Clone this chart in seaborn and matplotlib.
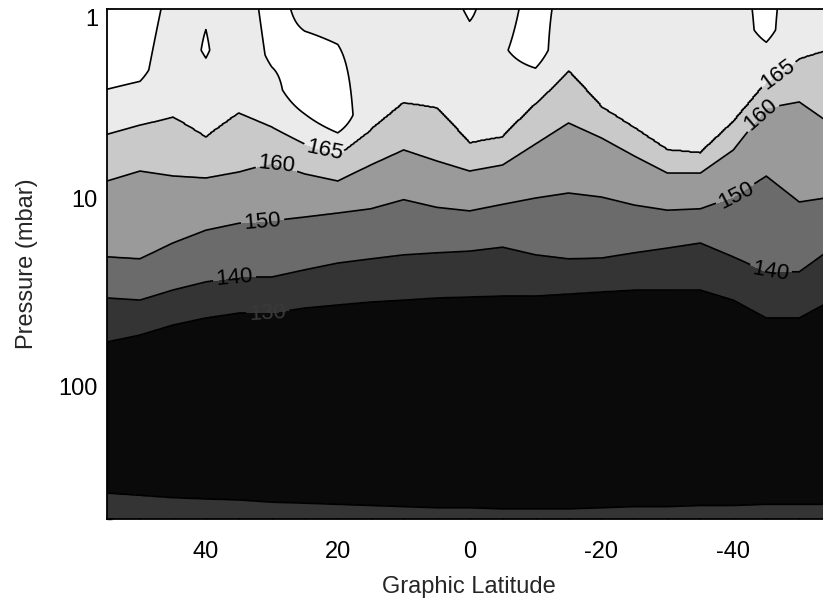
import numpy as np
import matplotlib
matplotlib.use("Agg")
import matplotlib.pyplot as plt
import seaborn as sns
from matplotlib.ticker import FixedLocator, LogLocator, NullFormatter, MultipleLocator

nan = np.nan

# ---- data -----------------------------------------------------------------
lat = [55, 50, 45, 40, 35, 30, 25, 20, 15, 10, 5, 0, -5, -10, -15, -20,
       -25, -30, -35, -40, -45, -50, -55]

# temperature (K) at the top of the plot (1 mbar)
t_top = [173, 173, 168.3, 169.5, 167, 172, 168.5, 168, 168, 168, 168, 170.5,
         168, 172, 168, 168, 168, 168, 168, 168, 171.5, 167, 167]

# warm upper-level knot (pressure in mbar, temperature in K)
p_warm = [2.38, 2.10, nan, 1.65, nan, 1.75, 2.68, 3.64, nan, nan, nan, nan,
          1.65, 1.65, nan, nan, nan, nan, nan, nan, 1.29, nan, nan]
t_warm = [171, 171.3, nan, 170.5, nan, 171, 174, 174, nan, nan, nan, nan,
          169.5, 172.5, nan, nan, nan, nan, nan, nan, 171.5, nan, nan]

# pressure (mbar) of each isotherm
p165 = [4.6, 4.11, 3.73, 4.76, 3.55, 4.21, 5.18, 5.92, 4.37, 3.14, 3.34, 5.12,
        4.76, 3.18, 2.13, 3.30, 4.26, 5.57, 5.78, 3.96, 2.46, 1.84, 1.63]
p160 = [8.13, 7.20, 7.65, 7.84, 7.29, 6.53, 7.46, 8.13, 6.69, 5.57, 6.37, 7.20,
        6.69, 5.18, 4.01, 4.81, 6.00, 7.38, 7.38, 5.57, 3.34, 3.10, 4.11]
p150 = [20.5, 21.0, 17.3, 14.8, 13.6, 13.2, 12.6, 12.0, 11.4, 10.2, 11.2, 11.7,
        10.8, 10.0, 9.41, 9.88, 10.9, 11.6, 11.4, 9.88, 7.65, 10.5, 9.88]
p140 = [33.8, 34.7, 30.7, 27.8, 26.2, 26.2, 24.0, 22.1, 21.0, 20.0, 19.5, 19.1,
        18.2, 20.0, 21.0, 20.8, 19.5, 18.4, 17.3, 20.5, 24.6, 24.6, 18.4]
p130 = [57.8, 53.1, 47.0, 43.1, 40.6, 40.6, 38.2, 36.8, 35.5, 34.7, 33.8, 33.4,
        33.0, 33.0, 32.2, 31.4, 30.7, 30.7, 30.7, 34.7, 43.1, 43.1, 34.7]
# deep level where the temperature climbs back to 130 K
p130_deep = [364, 374, 385, 391, 396, 407, 412, 418, 424, 430, 436, 436, 442,
             442, 442, 436, 430, 430, 424, 424, 418, 418, 418]

p_cold, t_cold = 150.0, 115.0      # cold trap knot
p_bottom, t_bottom = 500.0, 132.0  # bottom knot

fill_levels = [100, 130, 140, 150, 160, 165, 170, 190]
line_levels = [130, 140, 150, 160, 165, 170]
label_levels = [130, 140, 150, 160, 165]

# ---- build the temperature table from the arrays --------------------------
p_grid = np.logspace(0, np.log10(500), 600)
lp = np.log10(p_grid)
lat_a = np.array(lat, float)
order = np.argsort(lat_a)

# coarse columns (used for the warm upper layer)
T_coarse = np.empty((len(p_grid), len(lat)))
for j in range(len(lat)):
    kp = [1.0]
    kt = [t_top[j]]
    if np.isfinite(p_warm[j]):
        kp.append(p_warm[j]); kt.append(t_warm[j])
    for lev, arr in [(165, p165), (160, p160), (150, p150), (140, p140), (130, p130)]:
        kp.append(arr[j]); kt.append(lev)
    kp += [p_cold, p130_deep[j], p_bottom]
    kt += [t_cold, 130, t_bottom]
    T_coarse[:, j] = np.interp(lp, np.log10(kp), kt)

lat_f = np.linspace(lat_a.min(), lat_a.max(), 441)


def along_lat(vals):
    return np.interp(lat_f, lat_a[order], np.asarray(vals, float)[order])


def logp_along_lat(vals):
    return along_lat(np.log10(vals))


T_upper = np.array([along_lat(T_coarse[i]) for i in range(len(p_grid))])
iso = [(165, logp_along_lat(p165)), (160, logp_along_lat(p160)),
       (150, logp_along_lat(p150)), (140, logp_along_lat(p140)),
       (130, logp_along_lat(p130))]
deep = logp_along_lat(p130_deep)

T = np.empty((len(p_grid), len(lat_f)))
for j in range(len(lat_f)):
    kp = [v[j] for _, v in iso] + [np.log10(p_cold), deep[j], np.log10(p_bottom)]
    kt = [lev for lev, _ in iso] + [t_cold, 130, t_bottom]
    low = np.interp(lp, kp, kt)
    up = np.maximum(T_upper[:, j], 165.0005)
    T[:, j] = np.where(lp < iso[0][1][j], up, low)

# ---- plot -----------------------------------------------------------------
sns.set_style("ticks")
plt.rcParams['font.family'] = ['Liberation Sans', 'DejaVu Sans']
plt.rcParams['axes.unicode_minus'] = False

fig = plt.figure(figsize=(8.23, 6.07), dpi=100)
ax = fig.add_axes([0.130, 0.145, 0.870, 0.840])

fill_colors = sns.color_palette(['#0a0a0a', '#343434', '#6b6b6b', '#9a9a9a',
                                 '#c9c9c9', '#ebebeb', '#ffffff'])
ax.contourf(lat_f, p_grid, T, levels=fill_levels, colors=fill_colors)
cs = ax.contour(lat_f, p_grid, T, levels=line_levels, colors='black',
                linewidths=1.2)

ax.set_yscale('log')
ax.set_xlim(55, -53.6)
ax.set_ylim(500, 1)

manual = [(22.0, 5.7), (29.0, 6.2), (31.4, 13.1), (35.8, 24.5), (30.6, 40.6),
          (-46.7, 2.2), (-43.6, 3.5), (-40.6, 9.9), (-45.6, 25.6)]
labels = ax.clabel(cs, levels=label_levels, inline=True, fmt='%d',
                   fontsize=16, manual=manual, inline_spacing=3)
for t in labels:
    if t.get_text() == '130':
        t.set_color('#3a3a3a')

ax.set_xticks([40, 20, 0, -20, -40])
ax.set_xticklabels(['40', '20', '0', '-20', '-40'])
ax.xaxis.set_minor_locator(MultipleLocator(5))
ax.yaxis.set_major_locator(FixedLocator([1, 10, 100]))
ax.set_yticklabels(['1', '10', '100'])
ax.yaxis.set_minor_locator(LogLocator(base=10, subs=np.arange(2, 10)))
ax.yaxis.set_minor_formatter(NullFormatter())

ax.tick_params(axis='both', which='both', direction='in', top=True,
               right=False, colors='black', labelsize=17)
ax.tick_params(axis='x', which='major', length=7, width=1.0, pad=16)
ax.tick_params(axis='x', which='minor', length=3.5, width=1.0)
ax.tick_params(axis='y', which='major', length=7, width=1.0, pad=6.5)
ax.tick_params(axis='y', which='minor', length=3.8, width=1.0)
ax.get_yticklabels()[0].set_va('top')

for side in ['top', 'left', 'bottom']:
    ax.spines[side].set_linewidth(1.3)
    ax.spines[side].set_color('black')
ax.spines['right'].set_visible(False)

ax.set_xlabel('Graphic Latitude', fontsize=17)
ax.set_ylabel('Pressure (mbar)', fontsize=17)
ax.xaxis.set_label_coords(0.5056, -0.112)
ax.yaxis.set_label_coords(-0.097, 0.5)

fig.savefig('out.png', dpi=100, facecolor='white')
